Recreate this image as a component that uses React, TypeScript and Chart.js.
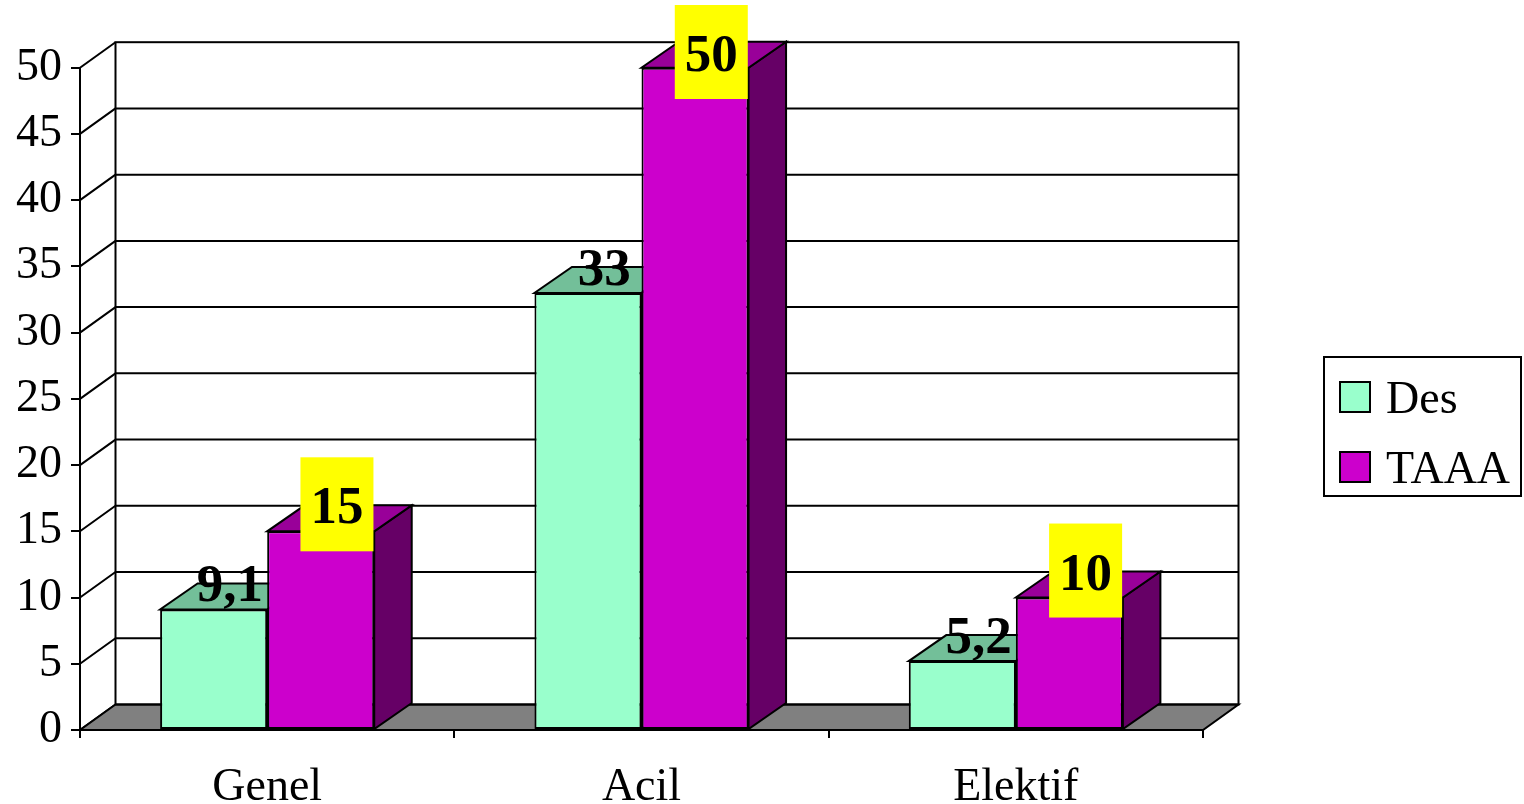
import React, { useEffect, useRef } from 'react';
import { Chart, registerables } from 'chart.js';

Chart.register(...registerables);

// Chart data
const categories = ['Genel', 'Acil', 'Elektif'];
const seriesNames = ['Des', 'TAAA'];
const desValues = [9.1, 33, 5.2];
const taaaValues = [15, 50, 10];
const yMin = 0;
const yMax = 50;
const yStep = 5;

const FONT = '"Liberation Serif", "Times New Roman", serif';

// Depth of the walls/floor and of the bars (pseudo-3D offset)
const WALL_DX = 35.5;
const WALL_DY = 25.5;
const BAR_DX = 37.5;
const BAR_DY = 26;

// Face shading for each series: front, top and side faces
const seriesStyles = [
  { front: '#99FFCC', top: '#73BF99', side: '#4D8066', boxed: false },
  { front: '#CC00CC', top: '#990099', side: '#660066', boxed: true },
];

const formatValue = (v: number) => String(v).replace('.', ',');

function polygon(ctx: CanvasRenderingContext2D, pts: number[][], fill: string) {
  ctx.beginPath();
  ctx.moveTo(pts[0][0], pts[0][1]);
  for (let i = 1; i < pts.length; i++) ctx.lineTo(pts[i][0], pts[i][1]);
  ctx.closePath();
  ctx.fillStyle = fill;
  ctx.fill();
  ctx.stroke();
}

const wallsAndDepthPlugin = {
  id: 'wallsAndDepth',
  beforeDatasetsDraw(chart: any) {
    const { ctx, chartArea, scales } = chart;
    const { left, right, bottom } = chartArea;
    const y = scales.y;
    const bl = left + WALL_DX;
    const br = right + WALL_DX;
    const bt = y.getPixelForValue(yMax) - WALL_DY;
    const bb = bottom - WALL_DY;
    ctx.save();
    ctx.strokeStyle = '#000';
    ctx.lineWidth = 2;
    ctx.lineJoin = 'miter';

    // back wall
    ctx.fillStyle = '#fff';
    ctx.fillRect(bl, bt, br - bl, bb - bt);

    // back-wall gridlines and side-wall diagonals
    for (let v = yMin; v <= yMax; v += yStep) {
      const py = y.getPixelForValue(v);
      ctx.beginPath();
      if (v > yMin && v < yMax) {
        ctx.moveTo(bl, py - WALL_DY);
        ctx.lineTo(br, py - WALL_DY);
      }
      ctx.moveTo(left, py);
      ctx.lineTo(bl, py - WALL_DY);
      ctx.stroke();
    }

    // floor
    polygon(ctx, [[left, bottom], [right, bottom], [br, bb], [bl, bb]], '#808080');

    // back wall outline
    ctx.strokeRect(bl, bt, br - bl, bb - bt);

    // bar top and side faces (front faces are drawn by Chart.js afterwards)
    ctx.lineWidth = 2;
    chart.data.datasets.forEach((_ds: any, di: number) => {
      const meta = chart.getDatasetMeta(di);
      const st = seriesStyles[di];
      meta.data.forEach((bar: any) => {
        const { x, y: ty, base, width } = bar.getProps(['x', 'y', 'base', 'width'], true);
        const l = x - width / 2;
        const r = x + width / 2;
        polygon(ctx, [[r, ty], [r + BAR_DX, ty - BAR_DY], [r + BAR_DX, base - BAR_DY], [r, base]], st.side);
        polygon(ctx, [[l, ty], [r, ty], [r + BAR_DX, ty - BAR_DY], [l + BAR_DX, ty - BAR_DY]], st.top);
      });
    });
    ctx.restore();
  },
  afterDatasetsDraw(chart: any) {
    const { ctx } = chart;
    ctx.save();
    ctx.font = `bold 53px ${FONT}`;
    ctx.textAlign = 'center';
    ctx.textBaseline = 'alphabetic';
    chart.data.datasets.forEach((ds: any, di: number) => {
      const meta = chart.getDatasetMeta(di);
      const st = seriesStyles[di];
      meta.data.forEach((bar: any, i: number) => {
        const { x, y: ty } = bar.getProps(['x', 'y'], true);
        const text = formatValue(ds.data[i]);
        const cx = x + BAR_DX / 2 - 2.5;
        let cy = ty - BAR_DY - 1;
        if (st.boxed) {
          const w = ctx.measureText(text).width + 20;
          const h = 94;
          let top = cy - h / 2;
          if (top < 5) top = 5;
          cy = top + h / 2;
          ctx.fillStyle = '#FFFF00';
          ctx.fillRect(cx - w / 2, top, w, h);
        }
        ctx.fillStyle = '#000';
        ctx.fillText(text, cx, cy + 19);
      });
    });
    ctx.restore();
  },
  afterDraw(chart: any) {
    const { ctx } = chart;
    ctx.save();
    ctx.strokeStyle = '#000';
    ctx.lineWidth = 2;
    ctx.fillStyle = '#fff';
    ctx.fillRect(1324, 357, 197, 139);
    ctx.strokeRect(1324, 357, 197, 139);
    ctx.font = `46px ${FONT}`;
    ctx.textAlign = 'left';
    ctx.textBaseline = 'alphabetic';
    chart.data.datasets.forEach((ds: any, di: number) => {
      const sy = 382 + di * 70;
      ctx.fillStyle = seriesStyles[di].front;
      ctx.fillRect(1340, sy, 30, 30);
      ctx.strokeRect(1340, sy, 30, 30);
      ctx.fillStyle = '#000';
      ctx.fillText(ds.label, 1386, sy + 30.5);
    });
    ctx.restore();
  },
};

export default function App() {
  const canvasRef = useRef<HTMLCanvasElement | null>(null);

  useEffect(() => {
    const canvas = canvasRef.current;
    if (!canvas) return;
    const chart = new Chart(canvas, {
      type: 'bar',
      data: {
        labels: categories,
        datasets: [
          {
            label: seriesNames[0],
            data: desValues,
            backgroundColor: seriesStyles[0].front,
            borderColor: '#000',
            borderWidth: 2,
            borderSkipped: false,
          },
          {
            label: seriesNames[1],
            data: taaaValues,
            backgroundColor: seriesStyles[1].front,
            borderColor: '#000',
            borderWidth: 2,
            borderSkipped: false,
          },
        ],
      },
      options: {
        animation: false,
        responsive: false,
        devicePixelRatio: 1,
        layout: { padding: { top: 67.7, right: 321, bottom: 0, left: 0 } },
        datasets: { bar: { categoryPercentage: 0.572, barPercentage: 1 } },
        plugins: { legend: { display: false }, tooltip: { enabled: false } },
        scales: {
          x: {
            afterFit: (s: any) => { s.height = 74; },
            grid: { offset: true, drawOnChartArea: false, drawTicks: true, tickLength: 8, color: '#000', lineWidth: 2 },
            border: { display: true, color: '#000', width: 2 },
            ticks: { color: '#000', font: { family: FONT, size: 46 }, padding: 22 },
          },
          y: {
            min: yMin,
            max: yMax,
            afterFit: (s: any) => { s.width = 80; },
            grid: { drawOnChartArea: false, drawTicks: true, tickLength: 9, color: '#000', lineWidth: 2 },
            border: { display: true, color: '#000', width: 2 },
            ticks: { stepSize: yStep, color: '#000', font: { family: FONT, size: 46 }, padding: 9 },
          },
        },
      },
      plugins: [wallsAndDepthPlugin],
    });
    return () => chart.destroy();
  }, []);

  return (
    <div style={{ position: 'fixed', left: 0, top: 0, width: 1524, height: 804, background: '#fff' }}>
      <canvas ref={canvasRef} width={1524} height={804} style={{ display: 'block' }} />
    </div>
  );
}
